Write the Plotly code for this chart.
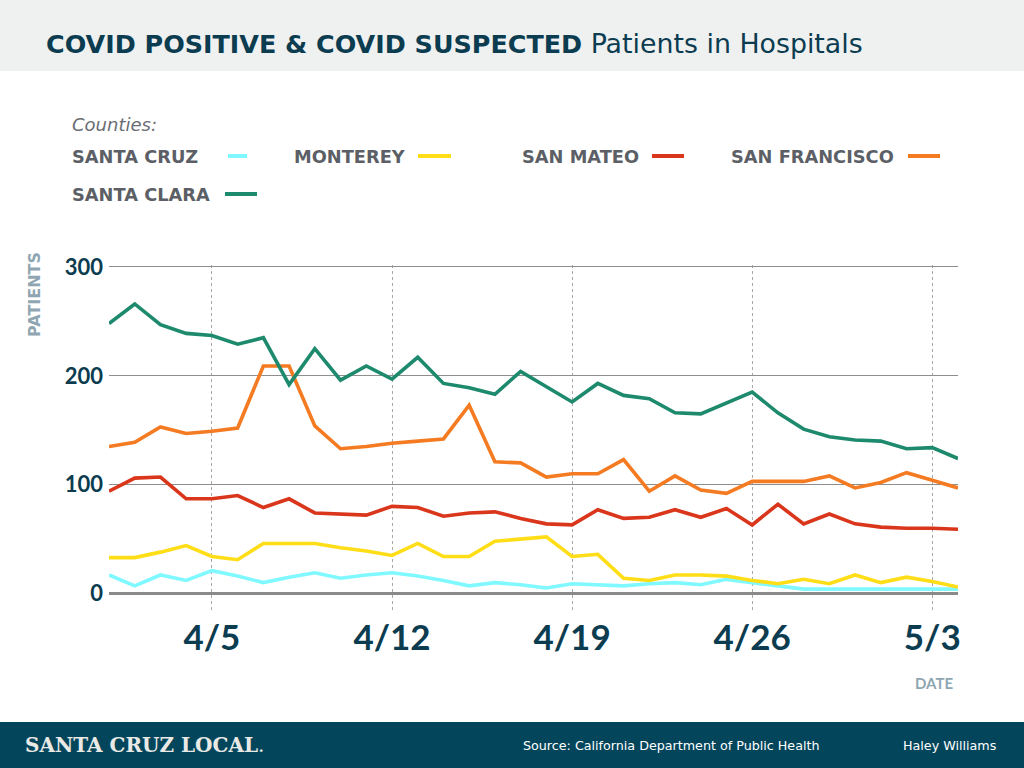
import plotly.graph_objects as go

# ---------------- data ----------------
dates = ["2020-04-%02d" % d for d in range(1, 31)] + ["2020-05-01", "2020-05-02", "2020-05-03", "2020-05-04"]

santa_cruz = [17, 7, 17, 12, 21, 16, 10, 15, 19, 14, 17, 19, 16, 12, 7, 10, 8,
              5, 9, 8, 7, 9, 10, 8, 13, 10, 7, 4, 4, 4, 4, 4, 4, 4]
monterey = [33, 33, 38, 44, 34, 31, 46, 46, 46, 42, 39, 35, 46, 34, 34, 48, 50,
            52, 34, 36, 14, 12, 17, 17, 16, 12, 9, 13, 9, 17, 10, 15, 11, 6]
san_mateo = [94, 106, 107, 87, 87, 90, 79, 87, 74, 73, 72, 80, 79, 71, 74, 75, 69,
             64, 63, 77, 69, 70, 77, 70, 78, 63, 82, 64, 73, 64, 61, 60, 60, 59]
san_francisco = [135, 139, 153, 147, 149, 152, 209, 209, 154, 133, 135, 138, 140, 142, 173, 121, 120,
                 107, 110, 110, 123, 94, 108, 95, 92, 103, 103, 103, 108, 97, 102, 111, 104, 97]
santa_clara = [248, 266, 247, 239, 237, 229, 235, 192, 225, 196, 209, 197, 217, 193, 189, 183, 204,
               190, 176, 193, 182, 179, 166, 165, 175, 185, 166, 151, 144, 141, 140, 133, 134, 124]

series_names = ["SANTA CRUZ", "MONTEREY", "SAN MATEO", "SAN FRANCISCO", "SANTA CLARA"]
series_values = [santa_cruz, monterey, san_mateo, san_francisco, santa_clara]
series_colors = ["#80f8ff", "#ffdd17", "#d9361b", "#f57b22", "#1d8a6d"]

x_tick_vals = ["2020-04-05", "2020-04-12", "2020-04-19", "2020-04-26", "2020-05-03"]
x_tick_text = ["4/5", "4/12", "4/19", "4/26", "5/3"]
y_tick_vals = [0, 100, 200, 300]
y_tick_text = ["0", "100", "200", "300"]

# ---------------- layout geometry ----------------
W, H = 1024, 768
L, R, T, B = 109, 958, 265, 612


def px(X):
    return (X - L) / (R - L)


def py(Y):
    return (B - Y) / (B - T)


DARK = "#0c3c50"
GRAY = "#5c5f66"
BLUEGRAY = "#8fa6b2"
FONT = "Lato"
WIDE = "DejaVu Sans"

fig = go.Figure()
for name, vals, col in zip(series_names, series_values, series_colors):
    fig.add_trace(go.Scatter(x=dates, y=vals, mode="lines", name=name,
                             line=dict(color=col, width=3.6), showlegend=False,
                             hoverinfo="x+y+name"))

shapes = []
annotations = []

# title band
shapes.append(dict(type="rect", xref="paper", yref="paper", x0=px(0), x1=px(W), y0=py(71), y1=py(0),
                   fillcolor="#eff1f0", line=dict(width=0), layer="below"))
annotations.append(dict(xref="paper", yref="paper", x=px(44), y=py(43), xanchor="left", yanchor="middle",
                        showarrow=False,
                        text="<b>COVID POSITIVE &amp; COVID SUSPECTED</b>"
                             "<span style='font-size:26.8px'> Patients in Hospitals</span>",
                        font=dict(family=WIDE, size=25.4, color=DARK)))

# footer band
shapes.append(dict(type="rect", xref="paper", yref="paper", x0=px(0), x1=px(W), y0=py(H), y1=py(722),
                   fillcolor="#03465b", line=dict(width=0), layer="below"))
annotations.append(dict(xref="paper", yref="paper", x=px(23), y=py(745), xanchor="left", yanchor="middle",
                        showarrow=False, text="<b>SANTA CRUZ LOCAL</b>.",
                        font=dict(family="DejaVu Serif", size=20, color="#e9e9e6")))
annotations.append(dict(xref="paper", yref="paper", x=px(521), y=py(745), xanchor="left", yanchor="middle",
                        showarrow=False, text="Source: California Department of Public Health",
                        font=dict(family=WIDE, size=12.7, color="#ffffff")))
annotations.append(dict(xref="paper", yref="paper", x=px(998), y=py(745), xanchor="right", yanchor="middle",
                        showarrow=False, text="Haley Williams",
                        font=dict(family=WIDE, size=12.7, color="#ffffff")))

# legend (custom: label then swatch)
annotations.append(dict(xref="paper", yref="paper", x=px(70), y=py(124), xanchor="left", yanchor="middle",
                        showarrow=False, text="<i>Counties:</i>",
                        font=dict(family=WIDE, size=18, color="#6a6d73")))
legend_pos = [(70, 156, 228, 247), (292, 156, 418, 451), (520, 156, 652, 684),
              (729, 156, 908, 940), (70, 194, 225, 257)]
for (tx, ty, s0, s1), name, col in zip(legend_pos, series_names, series_colors):
    annotations.append(dict(xref="paper", yref="paper", x=px(tx), y=py(ty), xanchor="left", yanchor="middle",
                            showarrow=False, text="<b>%s</b>" % name,
                            font=dict(family=WIDE, size=17.8, color=GRAY)))
    shapes.append(dict(type="line", xref="paper", yref="paper", x0=px(s0), x1=px(s1), y0=py(ty), y1=py(ty),
                       line=dict(color=col, width=4)))

# axis titles
annotations.append(dict(xref="paper", yref="paper", x=px(34), y=py(295), xanchor="center", yanchor="middle",
                        showarrow=False, text="<b>PATIENTS</b>", textangle=-90,
                        font=dict(family=WIDE, size=16, color=BLUEGRAY)))
annotations.append(dict(xref="paper", yref="paper", x=px(955), y=py(683), xanchor="right", yanchor="middle",
                        showarrow=False, text="<b>DATE</b>",
                        font=dict(family=FONT, size=15, color=BLUEGRAY)))

fig.update_layout(
    width=W, height=H,
    margin=dict(l=L, r=W - R, t=T, b=H - B, pad=0),
    paper_bgcolor="#ffffff", plot_bgcolor="#ffffff",
    shapes=shapes, annotations=annotations,
    showlegend=False,
    xaxis=dict(type="date", range=["2020-04-01", "2020-05-04"],
               tickmode="array", tickvals=x_tick_vals, ticktext=x_tick_text,
               showgrid=True, gridcolor="#a8a8a8", griddash="dot", gridwidth=1,
               zeroline=False, showline=False, ticks="",
               tickfont=dict(family=FONT, size=35, color=DARK, weight="bold"),
               ticklabelstandoff=2),
    yaxis=dict(range=[-17, 301.8], tickmode="array", tickvals=y_tick_vals, ticktext=y_tick_text,
               showgrid=True, gridcolor="#8e8e8e", gridwidth=1.2,
               zeroline=True, zerolinecolor="#8a8a8a", zerolinewidth=3,
               showline=False, ticks="",
               tickfont=dict(family=FONT, size=22, color=DARK, weight="bold"),
               ticklabelstandoff=5),
)

fig.write_html("out.html")
